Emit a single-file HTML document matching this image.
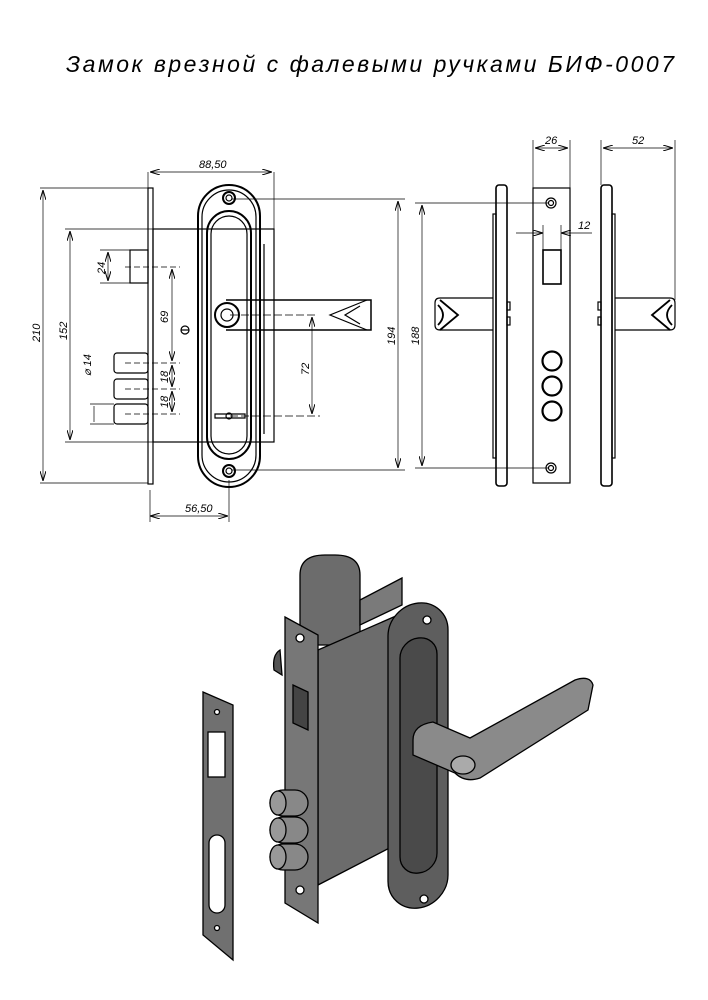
<!DOCTYPE html>
<html><head><meta charset="utf-8"><style>
html,body{margin:0;padding:0;background:#fff;}
svg{display:block;}
text{font-family:"Liberation Sans",sans-serif;font-style:italic;fill:#000;}
</style></head><body>
<svg width="708" height="1000" viewBox="0 0 708 1000" xmlns="http://www.w3.org/2000/svg">
<defs>
<marker id="a" viewBox="0 0 10 6" refX="10" refY="3" markerWidth="10" markerHeight="6" orient="auto-start-reverse" markerUnits="userSpaceOnUse"><path d="M0,0 L10,3 L0,6" fill="none" stroke="#000" stroke-width="1"/></marker>
</defs>
<text x="66" y="72" font-size="23" textLength="608" lengthAdjust="spacing">Замок врезной с фалевыми ручками БИФ-0007</text>

<g fill="none" stroke="#000" stroke-width="1.2">
<rect x="148" y="188" width="5" height="296"/>
<rect x="153" y="229" width="121" height="213"/>
<rect x="130" y="250" width="18" height="33"/>
<rect x="114" y="353" width="34" height="20" rx="3"/>
<rect x="114" y="379" width="34" height="20" rx="3"/>
<rect x="114" y="404" width="34" height="20" rx="3"/>
<rect x="198" y="185" width="62" height="302" rx="31" stroke-width="2"/>
<rect x="202" y="190" width="54" height="292" rx="27"/>
<rect x="207" y="211" width="44" height="248" rx="22" stroke-width="2"/>
<rect x="211" y="216" width="36" height="238" rx="18"/>
<circle cx="229" cy="198" r="6" stroke-width="2"/><circle cx="229" cy="198" r="3"/>
<circle cx="229" cy="471" r="6" stroke-width="2"/><circle cx="229" cy="471" r="3"/>
<path d="M226,300 H371 V330 H226" stroke-width="1.5"/>
<circle cx="227" cy="315" r="12" stroke-width="2"/><circle cx="227" cy="315" r="6"/>
<path d="M367,300 L330,315 L367,330 M360,306 L345,315 L360,324"/>
<circle cx="185" cy="330" r="4"/><path d="M181,330 h8"/>
<path d="M215,414 h30 v4 h-30 z"/><circle cx="229" cy="416" r="3"/>
<path d="M260,237 v203 M264,244 v190"/>
</g>
<g stroke="#000" stroke-width="0.7" fill="none">
<path d="M148,172 V188 M274,172 V229" />
<line x1="150" y1="172" x2="272" y2="172" marker-start="url(#a)" marker-end="url(#a)"/>
<path d="M40,188 H148 M40,483 H148"/>
<line x1="43" y1="190" x2="43" y2="481" marker-start="url(#a)" marker-end="url(#a)"/>
<path d="M65,229 H153 M65,442 H153"/>
<line x1="70" y1="231" x2="70" y2="440" marker-start="url(#a)" marker-end="url(#a)"/>
<path d="M100,250 H130 M100,283 H130"/>
<line x1="108" y1="252" x2="108" y2="281" marker-start="url(#a)" marker-end="url(#a)"/>
<path d="M90,404 H114 M90,424 H114"/>
<line x1="94" y1="406" x2="94" y2="422"/>
<path d="M125,267 H180 M125,363 H180 M125,389 H180 M125,414 H180" stroke-dasharray="6 3"/>
<line x1="172" y1="269" x2="172" y2="361" marker-start="url(#a)" marker-end="url(#a)"/>
<line x1="172" y1="365" x2="172" y2="387" marker-start="url(#a)" marker-end="url(#a)"/>
<line x1="172" y1="391" x2="172" y2="412" marker-start="url(#a)" marker-end="url(#a)"/>
<path d="M230,315 H315 M230,416 H320" stroke-dasharray="8 3"/>
<line x1="312" y1="317" x2="312" y2="414" marker-start="url(#a)" marker-end="url(#a)"/>
<path d="M232,199 H405 M232,470 H405"/>
<line x1="398" y1="201" x2="398" y2="468" marker-start="url(#a)" marker-end="url(#a)"/>
<path d="M415,203 H548 M415,468 H548"/>
<line x1="422" y1="205" x2="422" y2="466" marker-start="url(#a)" marker-end="url(#a)"/>
<path d="M150,490 V522 M229,480 V522"/>
<line x1="150" y1="516" x2="228" y2="516" marker-start="url(#a)" marker-end="url(#a)"/>
<path d="M533,140 V188 M570,140 V188 M601,140 V185 M675,140 V300"/>
<line x1="535" y1="148" x2="568" y2="148" marker-start="url(#a)" marker-end="url(#a)"/>
<line x1="603" y1="148" x2="673" y2="148" marker-start="url(#a)" marker-end="url(#a)"/>
<path d="M543,225 V250 M561,225 V250"/>
<line x1="516" y1="233" x2="543" y2="233" marker-end="url(#a)"/>
<line x1="592" y1="233" x2="561" y2="233" marker-end="url(#a)"/>
</g>
<g font-size="11">
<text x="199" y="168">88,50</text>
<text x="185" y="512">56,50</text>
<text x="545" y="144">26</text>
<text x="632" y="144">52</text>
<text x="578" y="229">12</text>
<text transform="translate(40,342) rotate(-90)">210</text>
<text transform="translate(67,340) rotate(-90)">152</text>
<text transform="translate(105,274) rotate(-90)">24</text>
<text transform="translate(168,323) rotate(-90)">69</text>
<text transform="translate(168,383) rotate(-90)">18</text>
<text transform="translate(168,408) rotate(-90)">18</text>
<text transform="translate(91,376) rotate(-90)">⌀ 14</text>
<text transform="translate(309,375) rotate(-90)">72</text>
<text transform="translate(395,345) rotate(-90)">194</text>
<text transform="translate(419,345) rotate(-90)">188</text>
</g>
<g fill="none" stroke="#000" stroke-width="1.2">
<rect x="496" y="185" width="11" height="301" rx="3" stroke-width="1.6"/>
<rect x="493" y="214" width="3" height="244"/>
<path d="M493,298 H440 q-5,0 -5,5 v22 q0,5 5,5 H493"/>
<path d="M440,300 l18,15 l-18,15 M438,305 q10,10 0,20" stroke-width="1.8"/>
<rect x="507" y="302" width="3" height="8"/><rect x="507" y="317" width="3" height="8"/>
<rect x="533" y="188" width="37" height="295"/>
<circle cx="551" cy="203" r="5"/><circle cx="551" cy="203" r="2.5"/>
<circle cx="551" cy="468" r="5"/><circle cx="551" cy="468" r="2.5"/>
<rect x="543" y="250" width="18" height="34" stroke-width="1.6"/>
<circle cx="552" cy="361" r="9.5" stroke-width="2.2"/>
<circle cx="552" cy="386" r="9.5" stroke-width="2.2"/>
<circle cx="552" cy="411" r="9.5" stroke-width="2.2"/>
<rect x="601" y="185" width="11" height="301" rx="3" stroke-width="1.6"/>
<rect x="612" y="214" width="3" height="244"/>
<path d="M615,298 H670 q5,0 5,5 v22 q0,5 -5,5 H615"/>
<path d="M670,300 l-18,15 l18,15 M672,305 q-10,10 0,20" stroke-width="1.8"/>
<rect x="598" y="302" width="3" height="8"/><rect x="598" y="317" width="3" height="8"/>
</g>
<g stroke="#000" stroke-width="1.3" fill="#6c6c6c">
<path d="M300,575 q0,-20 25,-20 h10 q25,0 25,20 v70 h-60z"/>
<path d="M360,600 L402,578 L402,605 L360,625z" fill="#7a7a7a"/>
<path d="M318,650 L405,612 L405,840 L318,885z"/>
<path d="M285,617 L318,635 L318,923 L285,903z" fill="#777"/>
<circle cx="300" cy="638" r="4" fill="#fff"/><circle cx="300" cy="890" r="4" fill="#fff"/>
<path d="M293,685 L308,692 L308,730 L293,723z" fill="#444"/>
<path d="M280,650 q-8,5 -6,20 l8,5z" fill="#555"/>
<rect x="270" y="790" width="38" height="26" rx="13" fill="#888"/>
<rect x="270" y="817" width="38" height="26" rx="13" fill="#888"/>
<rect x="270" y="844" width="38" height="26" rx="13" fill="#888"/>
<ellipse cx="278" cy="803" rx="8" ry="12" fill="#999"/>
<ellipse cx="278" cy="830" rx="8" ry="12" fill="#999"/>
<ellipse cx="278" cy="857" rx="8" ry="12" fill="#999"/>
<path d="M203,692 L233,705 L233,960 L203,935z" fill="#707070"/>
<rect x="208" y="732" width="17" height="45" fill="#fff"/>
<rect x="209" y="835" width="16" height="78" rx="8" fill="#fff"/>
<circle cx="217" cy="712" r="2.5" fill="#fff"/><circle cx="217" cy="928" r="2.5" fill="#fff"/>
<rect x="388" y="605" width="60" height="305" rx="30" fill="#5e5e5e" transform="skewY(-6) translate(0,42)"/>
<rect x="400" y="640" width="37" height="235" rx="18" fill="#4a4a4a" transform="skewY(-6) translate(0,42)"/>
<circle cx="427" cy="620" r="4" fill="#fff"/><circle cx="424" cy="899" r="4" fill="#fff"/>
<path d="M413,740 q0,-15 20,-18 L470,738 L575,680 q15,-5 18,5 l-5,25 L480,778 q-15,5 -25,-5 L413,755z" fill="#8a8a8a"/>
<ellipse cx="463" cy="765" rx="12" ry="9" fill="#aaa"/>
</g>
</svg>
</body></html>
